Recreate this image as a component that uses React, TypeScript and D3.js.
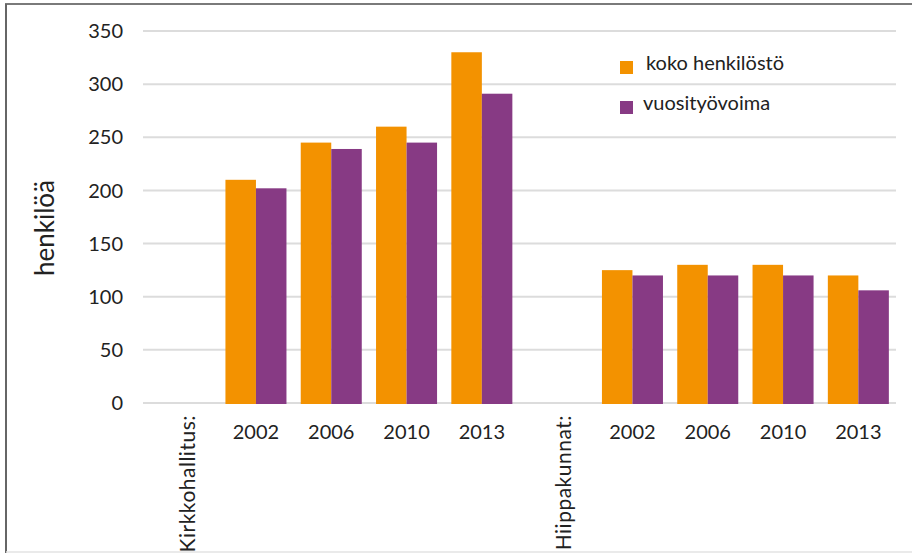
import * as d3 from "d3";
import React, { useEffect, useRef } from "react";

// category labels along the x axis (group headers have no bars)
const categories = [
    "Kirkkohallitus:",
    "2002",
    "2006",
    "2010",
    "2013",
    "Hiippakunnat:",
    "2002",
    "2006",
    "2010",
    "2013",
];
const groupHeaders = [0, 5];

const seriesNames = ["koko henkilöstö", "vuosityövoima"];
const kokoHenkilosto: (number | null)[] = [null, 210, 245, 260, 330, null, 125, 130, 130, 120];
const vuosityovoima: (number | null)[] = [null, 202, 239, 245, 291, null, 120, 120, 120, 106];
const yTicks = [0, 50, 100, 150, 200, 250, 300, 350];

const colors = ["#F39200", "#873A84"];
const WIDTH = 912;
const HEIGHT = 553;
const FONT = "Lato, 'Open Sans', sans-serif";

export default function App() {
    const svgRef = useRef<SVGSVGElement>(null);

    useEffect(() => {
        if (!svgRef.current) return;
        const svg = d3.select(svgRef.current);
        svg.selectAll("*").remove();

        const left = 143;
        const right = 896;
        const top = 31;
        const bottom = 403;

        const keys = categories.map((c, i) => i);
        const x = d3.scaleBand<number>().domain(keys).range([left, right]);
        const xInner = d3
            .scaleBand<number>()
            .domain([0, 1])
            .range([0, x.bandwidth()])
            .paddingOuter(0.234);
        const y = d3.scaleLinear().domain([0, 350]).range([bottom, top]);

        // frame
        svg.append("line")
            .attr("x1", 5).attr("x2", WIDTH).attr("y1", 4).attr("y2", 4)
            .attr("stroke", "#7a7a7a").attr("stroke-width", 2);
        svg.append("line")
            .attr("x1", 6).attr("x2", 6).attr("y1", 4).attr("y2", HEIGHT)
            .attr("stroke", "#666").attr("stroke-width", 2);
        svg.append("line")
            .attr("x1", 6).attr("x2", WIDTH).attr("y1", 552).attr("y2", 552)
            .attr("stroke", "#e3e3e3").attr("stroke-width", 1.5);

        // gridlines
        svg.append("g")
            .selectAll("line")
            .data(yTicks)
            .join("line")
            .attr("x1", left)
            .attr("x2", right)
            .attr("y1", (d) => y(d))
            .attr("y2", (d) => y(d))
            .attr("stroke", "#dcdcdc")
            .attr("stroke-width", 2);

        // y tick labels
        svg.append("g")
            .selectAll("text")
            .data(yTicks)
            .join("text")
            .attr("x", 123)
            .attr("y", (d) => y(d))
            .attr("dy", "0.36em")
            .attr("text-anchor", "end")
            .attr("font-family", FONT)
            .attr("font-size", 20)
            .attr("fill", "#222")
            .text((d) => d);

        // bars
        const series = [kokoHenkilosto, vuosityovoima];
        series.forEach((values, si) => {
            svg.append("g")
                .selectAll("rect")
                .data(values.map((v, i) => ({ v, i })).filter((d) => d.v !== null))
                .join("rect")
                .attr("x", (d) => (x(d.i) as number) + (xInner(si) as number))
                .attr("width", xInner.bandwidth())
                .attr("y", (d) => y(d.v as number))
                .attr("height", (d) => y(0) - y(d.v as number) + 1)
                .attr("fill", colors[si]);
        });

        // x labels
        svg.append("g")
            .selectAll("text")
            .data(keys.filter((i) => !groupHeaders.includes(i)))
            .join("text")
            .attr("x", (i) => (x(i) as number) + x.bandwidth() / 2)
            .attr("y", 439)
            .attr("text-anchor", "middle")
            .attr("font-family", FONT)
            .attr("font-size", 20)
            .attr("fill", "#222")
            .text((i) => categories[i]);

        // rotated group headers
        svg.append("g")
            .selectAll("text")
            .data(groupHeaders)
            .join("text")
            .attr(
                "transform",
                (i) => `translate(${(x(i) as number) + x.bandwidth() / 2 + 14},415) rotate(-90)`
            )
            .attr("text-anchor", "end")
            .attr("font-family", FONT)
            .attr("font-size", 21)
            .attr("letter-spacing", 0.5)
            .attr("fill", "#222")
            .text((i) => categories[i]);

        // y axis title
        svg.append("text")
            .attr("transform", "translate(54,228) rotate(-90)")
            .attr("text-anchor", "middle")
            .attr("font-family", FONT)
            .attr("font-size", 26)
            .attr("fill", "#222")
            .text("henkilöä");

        // legend
        const legend = svg.append("g");
        seriesNames.forEach((name, i) => {
            const ly = 61 + i * 40;
            legend.append("rect")
                .attr("x", 620).attr("y", ly)
                .attr("width", 13).attr("height", 13)
                .attr("fill", colors[i]);
            legend.append("text")
                .attr("x", i === 0 ? 646 : 643)
                .attr("y", ly + 9)
                .attr("font-family", FONT)
                .attr("font-size", 20)
                .attr("fill", "#222")
                .text(name);
        });
    }, []);

    return (
        <svg
            ref={svgRef}
            width={WIDTH}
            height={HEIGHT}
            style={{ position: "absolute", left: 0, top: 0, background: "#fff" }}
        />
    );
}
